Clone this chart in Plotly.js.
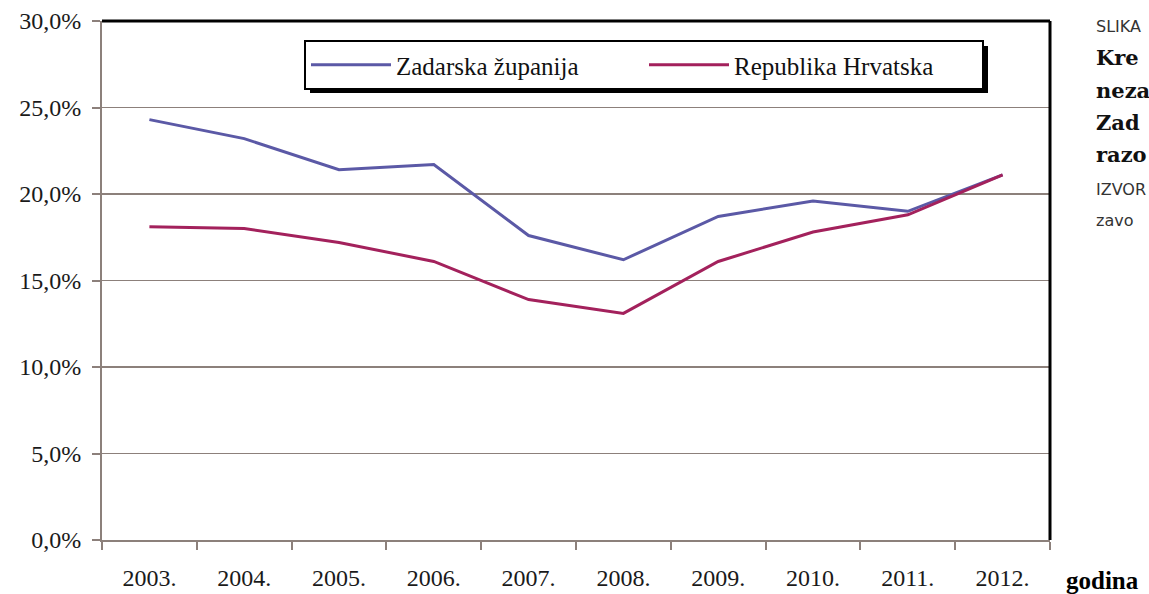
<!DOCTYPE html>
<html>
<head>
<meta charset="utf-8">
<script src="https://cdn.plot.ly/plotly-3.0.1.min.js"></script>
<style>html,body{margin:0;padding:0;background:#fff;}#chart{width:1149px;height:594px;}</style>
</head>
<body>
<div id="chart"></div>
<script>
var years = ["2003.","2004.","2005.","2006.","2007.","2008.","2009.","2010.","2011.","2012."];
var zadarska = [24.3, 23.2, 21.4, 21.7, 17.6, 16.2, 18.7, 19.6, 19.0, 21.1];
var hrvatska = [18.1, 18.0, 17.2, 16.1, 13.9, 13.1, 16.1, 17.8, 18.8, 21.1];
var seriesNames = ["Zadarska županija", "Republika Hrvatska"];
var yTicks = [0, 5, 10, 15, 20, 25, 30];
var yTickText = yTicks.map(function(v){ return v.toFixed(1).replace(".", ",") + "%"; });

var L = 102, R = 1050, T = 21, B = 540, W = 1149, H = 594;
function px(x){ return (x - L) / (R - L); }
function py(y){ return (B - y) / (B - T); }

var serif = "Liberation Serif, Times New Roman, serif";
var grid = "#8c807b";

var traces = [
  {x: years, y: zadarska, name: seriesNames[0], type: "scatter", mode: "lines",
   line: {color: "#5b59a6", width: 3}},
  {x: years, y: hrvatska, name: seriesNames[1], type: "scatter", mode: "lines",
   line: {color: "#a3215c", width: 3}}
];

var sideFontSerif = {family: "DejaVu Serif, serif", size: 21, color: "#111"};
var sideFontSans = {family: "DejaVu Sans, sans-serif", size: 16, color: "#333"};
function side(t, y, f){
  return {text: t, xref: "paper", yref: "paper", x: px(1094), y: py(y),
          xanchor: "left", yanchor: "middle", showarrow: false, font: f};
}

var layout = {
  width: W, height: H,
  margin: {l: L, r: W - R, t: T, b: H - B, pad: 0},
  paper_bgcolor: "#fff", plot_bgcolor: "#fff",
  showlegend: true,
  legend: {
    orientation: "h", x: px(304), y: py(40), xanchor: "left", yanchor: "top",
    bgcolor: "#fff", bordercolor: "#000", borderwidth: 2,
    font: {family: serif, size: 25, color: "#111"},
    itemwidth: 80,
    entrywidth: 243, entrywidthmode: "pixels", traceorder: "normal"
  },
  xaxis: {
    type: "category", range: [-0.5, 9.5], tickson: "boundaries", ticks: "outside", ticklen: 8,
    tickcolor: grid, tickwidth: 2, showline: true, linecolor: grid, linewidth: 2,
    showgrid: false, zeroline: false, fixedrange: true,
    tickfont: {family: serif, size: 24, color: "#1a1a1a"},
    ticklabelstandoff: 15
  },
  yaxis: {
    range: [0, 30], tickvals: yTicks, ticktext: yTickText,
    ticks: "outside", ticklen: 8, tickcolor: grid, tickwidth: 2,
    showline: true, linecolor: grid, linewidth: 2,
    showgrid: true, gridcolor: grid, gridwidth: 1.5, zeroline: false,
    tickfont: {family: serif, size: 24, color: "#1a1a1a"},
    ticklabelstandoff: 6, fixedrange: true
  },
  shapes: [
    {type: "line", xref: "paper", yref: "paper", x0: 0, x1: 1, y0: 1, y1: 1,
     line: {color: "#000", width: 3}},
    {type: "line", xref: "paper", yref: "paper", x0: 1, x1: 1, y0: 0, y1: 1,
     line: {color: "#000", width: 3}},
    {type: "rect", xref: "paper", yref: "paper", layer: "above",
     x0: px(310), x1: px(988), y0: py(93), y1: py(46),
     fillcolor: "#000", line: {width: 0}}
  ],
  annotations: [
    {text: "<b>godina</b>", xref: "paper", yref: "paper", x: px(1064), y: py(580),
     xanchor: "left", yanchor: "middle", showarrow: false,
     font: {family: serif, size: 25, color: "#000"}},
    side("SLIKA", 27, sideFontSans),
    side("<b>Kre</b>", 58, sideFontSerif),
    side("<b>neza</b>", 90, sideFontSerif),
    side("<b>Zad</b>", 122, sideFontSerif),
    side("<b>razo</b>", 154, sideFontSerif),
    side("IZVOR", 190, sideFontSans),
    side("zavo", 221, sideFontSans)
  ]
};

Plotly.newPlot("chart", traces, layout, {displayModeBar: false, staticPlot: true});
</script>
</body>
</html>
